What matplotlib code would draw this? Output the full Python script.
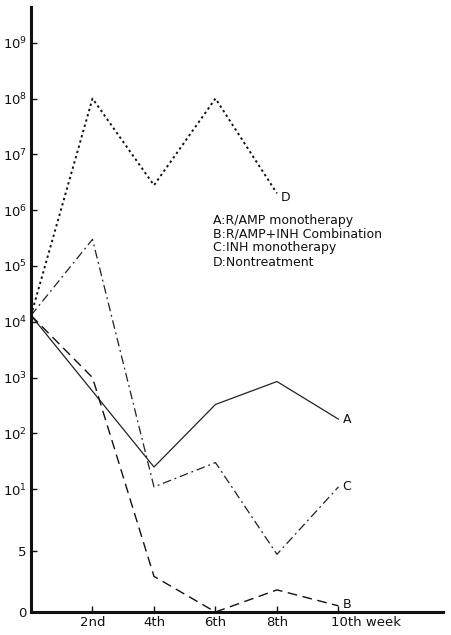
import matplotlib
matplotlib.use("Agg")
import matplotlib.pyplot as plt
import numpy as np
from matplotlib.transforms import ScaledTranslation

# weeks after infection
weeks = [0, 2, 4, 6, 8, 10]

# bacterial counts
a_counts = [1.3e4, 570, 25, 330, 850, 180]      # R/AMP monotherapy
b_counts = [1.3e4, 1000, 2.9, 0, 1.8, 0.5]      # R/AMP + INH
c_counts = [1.3e4, 3.0e5, 11, 30, 4.7, 11]      # INH monotherapy
d_weeks = [0, 2, 4, 6, 8]
d_counts = [1.3e4, 1.0e8, 2.8e6, 1.0e8, 2.0e6]  # nontreatment

y_ticks = [0, 5, 10, 1e2, 1e3, 1e4, 1e5, 1e6, 1e7, 1e8, 1e9]
y_labels = ["0", "5", "10$^1$", "10$^2$", "10$^3$", "10$^4$", "10$^5$",
            "10$^6$", "10$^7$", "10$^8$", "10$^9$"]
x_ticks = [2, 4, 6, 8, 10]
x_labels = ["2nd", "4th", "6th", "8th", "10th week"]

legend_lines = ["A:R/AMP monotherapy", "B:R/AMP+INH Combination",
                "C:INH monotherapy", "D:Nontreatment"]


# linear from 0 to 10, then one unit per decade
def forward(v):
    v = np.asarray(v, dtype=float)
    lg = np.log10(np.where(v > 10, v, 10.0))
    return np.where(v <= 10, v / 5 * 1.1, 2.2 + lg - 1)


def inverse(u):
    u = np.asarray(u, dtype=float)
    return np.where(u <= 2.2, u * 5 / 1.1, 10 ** (np.minimum(u, 60) - 1.2))


fig = plt.figure(figsize=(4.51, 6.35), dpi=100)
ax = fig.add_axes([31 / 451, 1 - 612 / 635, (443 - 31) / 451, (612 - 7) / 635])
ax.set_yscale("function", functions=(forward, inverse))
ax.set_xlim(0, 13.4)
ax.set_ylim(0, 10 ** 9.64)

ax.plot(weeks, a_counts, color="#222222", lw=0.9, ls="-")
ax.plot(weeks, b_counts, color="#111111", lw=1.0, ls=(0, (7, 4)))
ax.plot(weeks, c_counts, color="#222222", lw=0.9, ls=(0, (7, 3, 1.5, 3)))
ax.plot(d_weeks, d_counts, color="#111111", lw=1.4, ls=(0, (1.2, 1.6)))

# end labels
for xs, ys, name, dy in [(weeks, a_counts, "A", 0), (weeks, b_counts, "B", 1),
                         (weeks, c_counts, "C", 0), (d_weeks, d_counts, "D", -3)]:
    ax.annotate(name, (xs[-1], ys[-1]), xytext=(3, dy), textcoords="offset points",
                ha="left", va="center", fontsize=9, color="#111111")

for i, line in enumerate(legend_lines):
    fig.text(213 / 451, 1 - (220 + i * 14) / 635, line, fontsize=9,
             ha="left", va="center", color="#111111")

ax.set_yticks(y_ticks)
ax.set_yticklabels(y_labels)
ax.yaxis.set_minor_locator(matplotlib.ticker.NullLocator())
ax.set_xticks(x_ticks)
ax.set_xticklabels(x_labels)
ax.tick_params(direction="in", length=4, width=1, labelsize=9.5, pad=3, colors="#111111")
last = ax.get_xticklabels()[-1]
last.set_horizontalalignment("left")
last.set_transform(last.get_transform() + ScaledTranslation(-7 / 100, 0, fig.dpi_scale_trans))

for side in ["top", "right"]:
    ax.spines[side].set_visible(False)
for side in ["left", "bottom"]:
    ax.spines[side].set_linewidth(2.2)
    ax.spines[side].set_color("#111111")

fig.savefig("out.png", dpi=100)
